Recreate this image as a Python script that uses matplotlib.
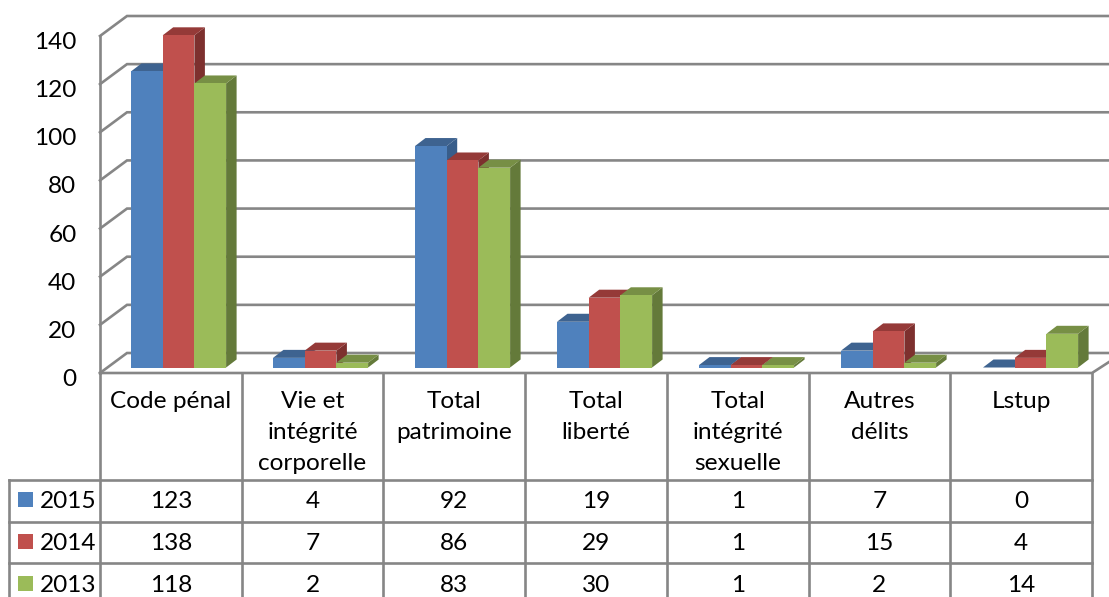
import matplotlib
matplotlib.use('Agg')
import matplotlib.pyplot as plt
from matplotlib.patches import Rectangle
from matplotlib.transforms import ScaledTranslation

plt.rcParams['font.family'] = ['Lato', 'DejaVu Sans']

# data
categories = ['Code pénal', 'Vie et\nintégrité\ncorporelle', 'Total\npatrimoine', 'Total\nliberté',
              'Total\nintégrité\nsexuelle', 'Autres\ndélits', 'Lstup']
years = ['2015', '2014', '2013']
v2015 = [123, 4, 92, 19, 1, 7, 0]
v2014 = [138, 7, 86, 29, 1, 15, 4]
v2013 = [118, 2, 83, 30, 1, 2, 14]
yticks = [0, 20, 40, 60, 80, 100, 120, 140]

front = ['#4F81BD', '#C0504D', '#9BBB59']
top = ['#3E6390', '#953A38', '#778F45']
side = ['#385D8A', '#7D302E', '#647A3A']
line_col = '#868686'
lw = 1.9
fs = 17.6

W, H = 1109, 597
fig = plt.figure(figsize=(W / 100, H / 100), dpi=100)

# overlay in image pixels for the table
tab = fig.add_axes([0, 0, 1, 1])
tab.set_xlim(0, W)
tab.set_ylim(H, 0)
tab.axis('off')

# main axes: the front plane of the chart
x0, x1, y0, y1 = 100, 1092, 373, 36
ax = fig.add_axes([x0 / W, 1 - y0 / H, (x1 - x0) / W, (y0 - y1) / H])
ax.patch.set_alpha(0)
ax.set_xlim(0, 7)
ax.set_ylim(0, 140)
ax.set_xticks([])
ax.set_yticks(yticks)
ax.tick_params(axis='y', length=0, pad=17, labelsize=fs, colors='black')
# the tick labels sit a little below their gridlines
for lab in ax.get_yticklabels():
    lab.set_transform(lab.get_transform() + ScaledTranslation(0, -4.5 / 100, fig.dpi_scale_trans))
for s in ax.spines.values():
    s.set_visible(False)

ux = 7 / (x1 - x0)      # data units per pixel
uy = 140 / (y0 - y1)

# walls and floor
wall_dx, wall_dy = 27 * ux, 20 * uy
right = (W - x0) * ux
for v in yticks:
    ax.plot([0, wall_dx, right], [v, v + wall_dy, v + wall_dy], color=line_col, lw=lw,
            clip_on=False, zorder=1, solid_joinstyle='miter')
ax.plot([0, 0], [0, 140], color=line_col, lw=lw, clip_on=False, zorder=1)
ax.plot([0, 7, right], [0, 0, 11 * uy], color=line_col, lw=lw, clip_on=False, zorder=8)

# bars with fake depth, series drawn in order so each one covers the previous side
bar_w = 31.7 * ux
start = 31 * ux
pitch = 142 * ux
base = 5.5 * uy
dx, dy = 10.5 * ux, 8 * uy
z = 2
for k, vals in enumerate([v2015, v2014, v2013]):
    for i, v in enumerate(vals):
        left = i * pitch + start + k * bar_w
        right_b = left + bar_w
        t = base + v
        ax.fill([right_b, right_b + dx, right_b + dx, right_b],
                [base, base + dy, t + dy, t], color=side[k], lw=0, zorder=z, clip_on=False)
        ax.fill([left, left + dx, right_b + dx, right_b],
                [t, t + dy, t + dy, t], color=top[k], lw=0, zorder=z, clip_on=False)
        ax.bar(left, v, bar_w, bottom=base, align='edge', color=front[k], lw=0, zorder=z, clip_on=False)
    z += 1

# table under the chart
col_w = (x1 - x0) / 7
rows = [480, 521.5, 563]
row_mid = [502, 543.5, 585.5]
for i in range(8):
    x = x0 + i * col_w
    tab.plot([x, x], [y0, H], color=line_col, lw=lw)
tab.plot([9, 9], [rows[0], H], color=line_col, lw=lw)
for y in rows:
    tab.plot([9, x1], [y, y], color=line_col, lw=lw)

for i, c in enumerate(categories):
    tab.text(x0 + (i + 0.5) * col_w, 391, c, ha='center', va='top', fontsize=fs, linespacing=1.58)

for r, vals in enumerate([v2015, v2014, v2013]):
    tab.add_patch(Rectangle((18, row_mid[r] - 10), 15, 15, color=front[r], lw=0))
    tab.text(40, row_mid[r], years[r], ha='left', va='center', fontsize=fs)
    for i, v in enumerate(vals):
        tab.text(x0 + (i + 0.5) * col_w, row_mid[r], str(v), ha='center', va='center', fontsize=fs)

fig.savefig('out.png', dpi=100)
